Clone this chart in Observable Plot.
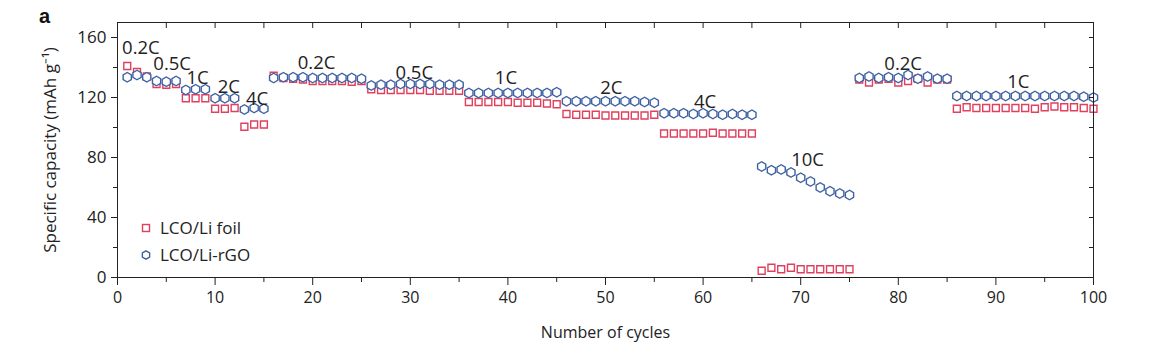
<!DOCTYPE html>
<html>
<head>
<meta charset="utf-8">
<script src="https://cdn.jsdelivr.net/npm/d3@7"></script>
<script src="https://cdn.jsdelivr.net/npm/@observablehq/plot@0.6"></script>
<style>
  html, body { margin: 0; padding: 0; background: #fff; }
</style>
</head>
<body>
<div id="wrap" style="position:relative;width:1156px;height:360px;font-family:'Open Sans',sans-serif;color:#222;">
  <div id="chart"></div>
  <div id="panel" style="position:absolute;left:39px;top:5px;font-family:'Liberation Sans',Arial,sans-serif;font-weight:bold;font-size:20px;color:#111;">a</div>
  <div id="legend" style="position:absolute;left:140px;top:214px;font-family:'Open Sans',sans-serif;font-size:17px;line-height:27px;color:#222;"></div>
</div>
<script>
const cycles = d3.range(1, 101);

const seriesNames = ["LCO/Li foil", "LCO/Li-rGO"];
const seriesColors = ["#e0405e", "#3f62a3"];

const foil = [
  141, 137, 134, 129, 128.5, 129, 119.5, 119.5, 119.5, 112.5,
  112.5, 113, 100.5, 102, 102, 134.5, 133, 132.5, 132, 131,
  131, 131, 131, 130.5, 131, 125.5, 125, 125, 125, 125,
  125, 124.5, 124.5, 124.5, 124.5, 117, 117, 117, 117, 117,
  116.5, 116.5, 116.5, 116, 115.5, 109, 108.5, 108.5, 108.5, 108,
  108, 108, 108, 108, 108.5, 96, 96, 96, 96, 96,
  96.5, 96, 96, 96, 96, 4.5, 6.5, 5.5, 6.5, 5.5,
  5.5, 5.5, 5.5, 5.5, 5.5, 132, 130, 132, 132.5, 130,
  131, 132.5, 130, 132, 132, 112.5, 113.5, 113, 113, 113,
  113, 113, 113, 112.5, 113.5, 114, 113.5, 113.5, 113, 112.5
];

const rgo = [
  133.5, 135, 133.5, 131, 130.5, 131, 125, 125.5, 125.5, 119.5,
  119.5, 119.5, 112, 113, 112.5, 133, 133.5, 133.5, 133.5, 133,
  133, 133, 133, 133, 132.5, 128, 128.5, 128.5, 129, 129,
  129, 129, 128.5, 128.5, 128.5, 123, 123, 123, 123, 123,
  123, 123, 123, 123, 123.5, 117.5, 117.5, 117.5, 117.5, 117.5,
  117.5, 117.5, 117.5, 117, 116.5, 109.5, 109.5, 109.5, 109, 109.5,
  109, 108.5, 109, 108.5, 108.5, 74, 71.5, 72, 70, 66.5,
  64, 60, 57.5, 56, 55, 133, 134, 133, 133.5, 133,
  135, 132.5, 134, 132.5, 132.5, 121, 121, 121, 121, 121,
  121, 121, 121, 121, 121, 121, 121, 121, 120.5, 120
];

// C-rate annotations (label, cycle position, capacity position)
const rateLabels = ["0.2C", "0.5C", "1C", "2C", "4C", "0.2C", "0.5C", "1C", "2C", "4C", "10C", "0.2C", "1C"];
const rateX = [2.4, 5.6, 8.2, 11.4, 14.3, 20.4, 30.4, 39.8, 50.6, 60.2, 70.7, 80.5, 92.3];
const rateY = [153, 142.5, 133, 127, 119, 143, 136.5, 133, 126.5, 117, 78.5, 142, 130];

const xMajor = d3.range(0, 101, 10);
const xMinor = d3.range(5, 100, 10);
const yMajor = [0, 40, 80, 120, 160];
const yMinor = [20, 60, 100, 140];

const chart = Plot.plot({
  width: 1156,
  height: 360,
  marginLeft: 117,
  marginRight: 63,
  marginTop: 22,
  marginBottom: 83,
  x: { domain: [0, 100] },
  y: { domain: [0, 170] },
  style: { fontFamily: "Open Sans, sans-serif", fontSize: "16px", color: "#222", background: "white" },
  marks: [
    Plot.dot(cycles, { x: d => d, y: (d, i) => foil[i], symbol: "square", r: 3.9, stroke: seriesColors[0], strokeWidth: 1.4, fill: "white" }),
    Plot.dot(cycles, { x: d => d, y: (d, i) => rgo[i], symbol: "hexagon", r: 4.1, stroke: seriesColors[1], strokeWidth: 1.4, fill: "white" }),
    Plot.text(rateLabels, { x: (d, i) => rateX[i], y: (d, i) => rateY[i], text: d => d, fontSize: 18.5, fill: "#222" }),
    Plot.frame({ stroke: "#222", strokeWidth: 1 }),
    Plot.axisX({ ticks: xMajor, tickSize: 8, tickPadding: 6, fontSize: 16, label: "Number of cycles", labelAnchor: "center", labelArrow: "none", labelOffset: 60 }),
    Plot.axisX({ ticks: xMinor, tickSize: 5, tickFormat: () => "", label: null }),
    Plot.axisX({ anchor: "top", ticks: d3.range(0, 101, 5), tickSize: -5, tickFormat: () => "", label: null }),
    Plot.axisY({ ticks: yMajor, tickSize: 6, tickPadding: 5, fontSize: 17, label: "Specific capacity (mAh g⁻¹)", labelAnchor: "center", labelArrow: "none", labelOffset: 74 }),
    Plot.axisY({ ticks: yMinor, tickSize: 4, tickFormat: () => "", label: null }),
    Plot.axisY({ anchor: "right", ticks: d3.range(0, 171, 20), tickSize: -5, tickFormat: () => "", label: null })
  ]
});
document.getElementById("chart").appendChild(chart);

// legend
const legend = document.getElementById("legend");
seriesNames.forEach((name, i) => {
  const row = document.createElement("div");
  row.style.display = "flex";
  row.style.alignItems = "center";
  const sym = i === 0
    ? `<rect x="2.5" y="2.5" width="7" height="7" fill="white" stroke="${seriesColors[i]}" stroke-width="1.4"/>`
    : `<polygon points="${d3.range(6).map(k => { const a = Math.PI / 3 * k - Math.PI / 2; return [6 + 4.2 * Math.cos(a), 6 + 4.2 * Math.sin(a)].join(","); }).join(" ")}" fill="white" stroke="${seriesColors[i]}" stroke-width="1.4"/>`;
  row.innerHTML = `<svg width="12" height="12" style="margin-right:8px">${sym}</svg><span style="font-size:17px">${name}</span>`;
  legend.appendChild(row);
});
</script>
</body>
</html>
